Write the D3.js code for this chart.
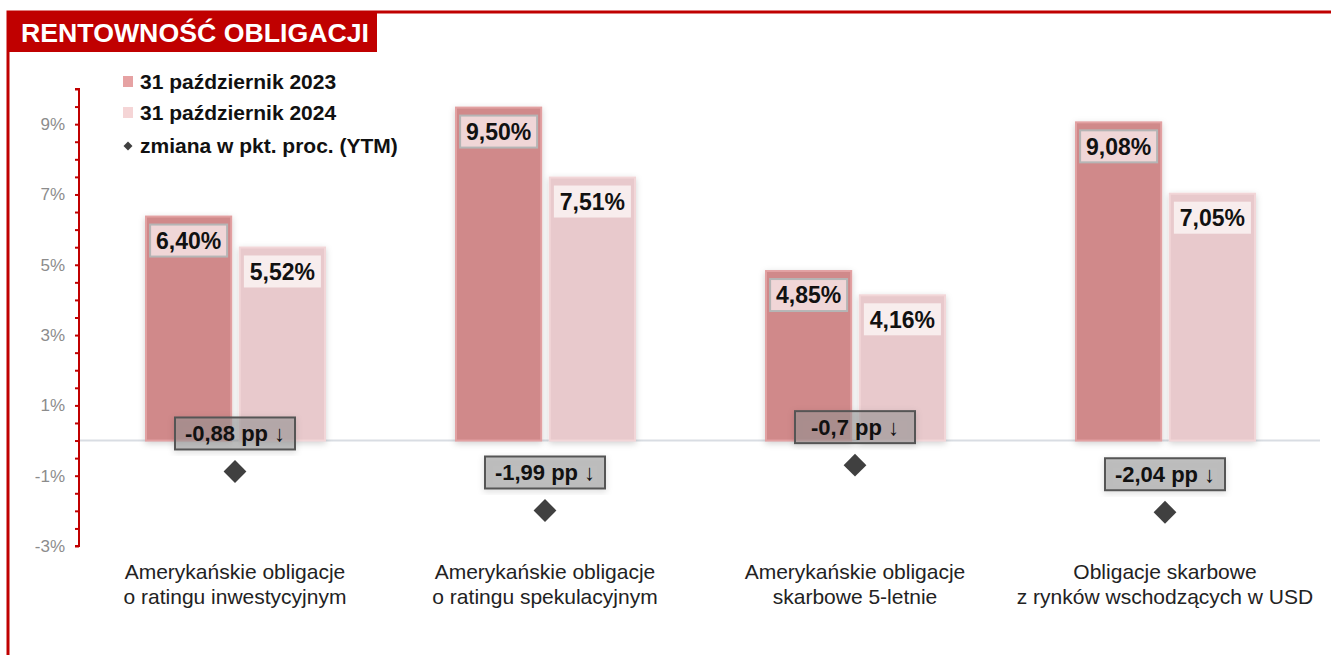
<!DOCTYPE html>
<html>
<head>
<meta charset="utf-8">
<script src="https://cdn.jsdelivr.net/npm/d3@7"></script>
<style>
  body { margin: 0; background: #fff; }
  svg { font-family: "Liberation Sans", Arial, sans-serif; }
</style>
</head>
<body>
<div id="chart"></div>
<script>
const categories = [
  ["Amerykańskie obligacje", "o ratingu inwestycyjnym"],
  ["Amerykańskie obligacje", "o ratingu spekulacyjnym"],
  ["Amerykańskie obligacje", "skarbowe 5-letnie"],
  ["Obligacje skarbowe", "z rynków wschodzących w USD"]
];
const series = ["31 październik 2023", "31 październik 2024"];
const yield2023 = [6.40, 9.50, 4.85, 9.08];
const yield2024 = [5.52, 7.51, 4.16, 7.05];
const changePP = [-0.88, -1.99, -0.70, -2.04];
const changeLabels = ["-0,88 pp ↓", "-1,99 pp ↓", "-0,7 pp ↓", "-2,04 pp ↓"];
const tickValues = [-3, -1, 1, 3, 5, 7, 9];

const width = 1331, height = 655;
const fmt = v => v.toFixed(2).replace(".", ",") + "%";

const svg = d3.select("#chart").append("svg")
  .attr("width", width).attr("height", height);

const defs = svg.append("defs");
const sh = defs.append("filter").attr("id", "shadow")
  .attr("x", "-20%").attr("y", "-20%").attr("width", "140%").attr("height", "140%");
sh.append("feDropShadow").attr("dx", 0).attr("dy", 2).attr("stdDeviation", 3)
  .attr("flood-color", "#000").attr("flood-opacity", 0.18);

// frame
svg.append("rect").attr("x", 8).attr("y", 12).attr("width", width).attr("height", height)
  .attr("fill", "none").attr("stroke", "#c00000").attr("stroke-width", 3);
svg.append("rect").attr("x", 8).attr("y", 12).attr("width", 369).attr("height", 40)
  .attr("fill", "#c00000");
svg.append("text").attr("x", 21).attr("y", 42)
  .attr("fill", "#fff").attr("font-weight", "bold").attr("font-size", 26.7)
  .text("RENTOWNOŚĆ OBLIGACJI");

const x0 = d3.scaleBand().domain(d3.range(categories.length)).range([80, 1320]);
const x1 = d3.scaleBand().domain([0, 1]).range([65, 246]).paddingInner(0.07);
const y = d3.scaleLinear().domain([-3, 10]).range([546, 89]);

// y axis
const axisG = svg.append("g").attr("transform", "translate(79,0)");
axisG.call(d3.axisLeft(y).tickValues(d3.range(-3, 10.01, 0.5)).tickSize(4).tickFormat(""))
  .call(g => g.selectAll("path,line").attr("stroke", "#c00000").attr("stroke-width", 2))
  .call(g => g.select(".domain").attr("d", `M-4,${y(10)}H0V${y(-3)}H-4`));
axisG.selectAll(".lbl").data(tickValues).join("text")
  .attr("x", -14).attr("y", d => y(d)).attr("dy", "0.35em")
  .attr("text-anchor", "end").attr("font-size", 17).attr("fill", "#8c8c8c")
  .text(d => d + "%");

// zero line
svg.append("line").attr("x1", 80).attr("x2", 1320).attr("y1", y(0)).attr("y2", y(0))
  .attr("stroke", "#d9dde3").attr("stroke-width", 2);

const groups = svg.selectAll(".grp").data(categories).join("g")
  .attr("transform", (d, i) => `translate(${x0(i)},0)`);

const colors = ["#d0898a", "#e8c9cc"];
const edges = ["#e2a1a2", "#f2d6d8"];
[yield2023, yield2024].forEach((vals, s) => {
  groups.append("rect")
    .attr("x", x1(s) + 1).attr("width", x1.bandwidth() - 2)
    .attr("y", (d, i) => y(vals[i]) + 1).attr("height", (d, i) => y(0) - y(vals[i]) - 1)
    .attr("fill", colors[s]).attr("stroke", edges[s]).attr("stroke-width", 2)
    .attr("filter", "url(#shadow)");
});

// value labels
[yield2023, yield2024].forEach((vals, s) => {
  const g = groups.append("g")
    .attr("transform", (d, i) => `translate(${x1(s) + x1.bandwidth() / 2},${y(vals[i]) + 25})`);
  g.append("rect").attr("x", -38.5).attr("y", -16).attr("width", 77).attr("height", 32)
    .attr("fill", s === 0 ? "#f0d6d7" : "#f8eded")
    .attr("stroke", s === 0 ? "#b5b5b5" : "none").attr("stroke-width", 2);
  g.append("text").attr("text-anchor", "middle").attr("dy", "0.36em")
    .attr("font-size", 23).attr("font-weight", "bold").attr("fill", "#111")
    .text((d, i) => fmt(vals[i]));
});

// change markers
const cx = x0.bandwidth() / 2;
groups.append("path")
  .attr("d", d3.symbol(d3.symbolSquare, 260))
  .attr("transform", (d, i) => `translate(${cx},${y(changePP[i])}) rotate(45)`)
  .attr("fill", "#404040");
const cg = groups.append("g")
  .attr("transform", (d, i) => `translate(${cx},${y(changePP[i]) - 38})`);
cg.append("rect").attr("x", -60).attr("y", -16).attr("width", 120).attr("height", 32)
  .attr("fill", "rgba(150,150,150,0.55)").attr("stroke", "#555").attr("stroke-width", 2)
  .attr("filter", "url(#shadow)");
cg.append("text").attr("text-anchor", "middle").attr("dy", "0.36em")
  .attr("font-size", 22).attr("font-weight", "bold").attr("fill", "#111")
  .text((d, i) => changeLabels[i]);

// category labels
groups.append("text").attr("text-anchor", "middle").attr("font-size", 21).attr("fill", "#222")
  .selectAll("tspan").data(d => d).join("tspan")
  .attr("x", cx).attr("y", (d, j) => 579 + j * 25).text(d => d);

// legend
const legend = svg.append("g").attr("transform", "translate(123,0)");
const legColors = ["#e6a2a3", "#f5d5d6"];
series.forEach((s, i) => {
  legend.append("rect").attr("x", 0).attr("y", 76 + i * 31).attr("width", 10).attr("height", 11)
    .attr("fill", legColors[i]);
  legend.append("text").attr("x", 17).attr("y", 89 + i * 31)
    .attr("font-size", 21).attr("font-weight", "bold").attr("fill", "#111").text(s);
});
legend.append("path").attr("d", d3.symbol(d3.symbolSquare, 40))
  .attr("transform", "translate(5,146) rotate(45)").attr("fill", "#404040");
legend.append("text").attr("x", 17).attr("y", 153)
  .attr("font-size", 21).attr("font-weight", "bold").attr("fill", "#111")
  .text("zmiana w pkt. proc. (YTM)");
</script>
</body>
</html>
